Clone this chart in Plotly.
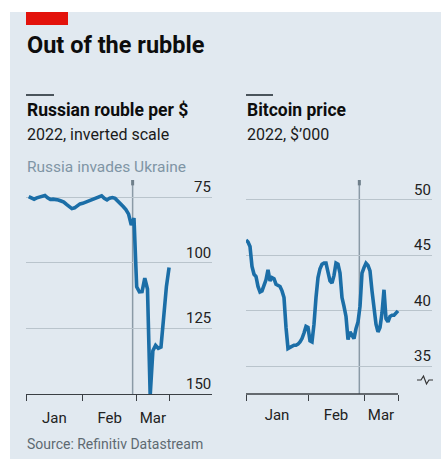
import numpy as np
import pandas as pd
import plotly.graph_objects as go

# ---- data -------------------------------------------------------------
# Rouble per dollar, trading days 4 Jan - 17 Mar 2022
rouble_dates = pd.bdate_range("2022-01-04", "2022-03-17")
rouble_values = [
    74.8, 75.3, 75.8, 75.3, 74.9, 74.5, 74.4, 75.3, 75.9, 75.8,
    75.9, 76.1, 76.5, 76.9, 77.8, 78.8, 79.4, 79.1, 78.2, 77.6,
    77.4, 77.0, 76.7, 76.2, 75.7, 75.2, 74.8, 74.5, 75.5, 76.1,
    75.4, 75.2, 75.5, 76.4, 77.4, 78.6, 79.8, 81.5, 85.7, 83.0,
    109.2, 111.1, 111.0, 105.9, 110.0, 150.6, 133.5, 131.5, 132.6, 132.1,
    120.7, 109.2, 101.8,
]
rouble_ticks = [75, 100, 125, 150]

# Bitcoin price, $'000, daily 1 Jan - 18 Mar 2022
btc_dates = pd.date_range("2022-01-01", "2022-03-18", freq="D")
btc_values = [
    46.4, 46.2, 45.8, 44.0, 43.3, 43.1, 42.2, 41.7, 41.8, 42.4,
    42.8, 43.7, 42.7, 43.0, 42.9, 42.4, 42.3, 42.2, 41.8, 41.2,
    38.5, 36.6, 36.7, 36.8, 36.9, 36.9, 37.0, 37.2, 37.5, 38.0,
    38.6, 38.5, 37.3, 37.2, 38.8, 41.2, 43.0, 43.8, 44.2, 44.3,
    44.3, 43.5, 42.7, 42.5, 43.2, 44.3, 44.2, 43.4, 41.2, 40.4,
    39.5, 37.4, 38.1, 37.8, 37.5, 38.4, 39.0, 40.4, 43.4, 43.9,
    44.3, 44.1, 43.6, 41.8, 40.0, 38.8, 38.1, 38.5, 39.8, 41.9,
    39.3, 39.0, 39.5, 39.6, 39.6, 39.8, 40.0,
]
btc_ticks = [35, 40, 45, 50]
month_names = ["Jan", "Feb", "Mar"]

# ---- geometry / style ---------------------------------------------------
W, H = 441, 459
BG = "#e1e9f0"
BLUE = "#1b6ea7"
GRID = "#b9c4cc"
AXIS = "#3a3f44"
VLINE = "#8a9aa6"
FONT = "Roboto"


def px(x):
    return x / W


def py(y):
    return (H - y) / H


# rouble x positions counted in trading days from 3 Jan
t0 = np.datetime64("2022-01-03")
rouble_x = np.busday_count(t0, rouble_dates.values.astype("datetime64[D]"))
r_bounds = [0,
            int(np.busday_count(t0, np.datetime64("2022-02-01"))),
            int(np.busday_count(t0, np.datetime64("2022-03-01"))),
            int(rouble_x[-1])]
r_mid = [(a + b) / 2 for a, b in zip(r_bounds[:-1], r_bounds[1:])]

b_bounds = [pd.Timestamp("2022-01-01"), pd.Timestamp("2022-02-01"),
            pd.Timestamp("2022-03-01"), btc_dates[-1]]
b_mid = [a + (b - a) / 2 for a, b in zip(b_bounds[:-1], b_bounds[1:])]

# event marker positions (rouble: trading-day units; bitcoin: timestamp)
r_event = 39.5
b_event = "2022-02-26 16:00"

fig = go.Figure()
fig.add_trace(go.Scatter(x=rouble_x, y=rouble_values, mode="lines",
                         line=dict(color=BLUE, width=3.6), xaxis="x", yaxis="y",
                         hoverinfo="skip", cliponaxis=False))
fig.add_trace(go.Scatter(x=btc_dates, y=btc_values, mode="lines",
                         line=dict(color=BLUE, width=3.6), xaxis="x2", yaxis="y2",
                         hoverinfo="skip"))

ydom = [py(394), py(180)]
tickfont = dict(family=FONT, size=15, color="#222222")

fig.update_layout(
    width=W, height=H, autosize=False,
    margin=dict(l=0, r=0, t=0, b=0),
    paper_bgcolor="white", plot_bgcolor="rgba(0,0,0,0)",
    showlegend=False,
    xaxis=dict(domain=[px(26), px(212)], range=[0, 68.9], anchor="y",
               tickvals=r_mid, ticktext=month_names, ticks="",
               tickfont=tickfont, ticklabelstandoff=10,
               showgrid=False, zeroline=False,
               showline=True, linecolor=AXIS, linewidth=1.3,
               minor=dict(tickvals=r_bounds, ticks="outside", ticklen=6,
                          tickcolor=AXIS, tickwidth=1.3, showgrid=False)),
    yaxis=dict(domain=ydom, range=[150, 68.5], anchor="x", side="right",
               tickvals=rouble_ticks, showticklabels=False,
               showgrid=True, gridcolor=GRID, gridwidth=1,
               zeroline=False, ticks="", showline=False),
    xaxis2=dict(domain=[px(246), px(432)], type="date",
                range=["2022-01-01", "2022-04-04"], anchor="y2",
                tickvals=b_mid, ticktext=month_names, ticks="",
                tickfont=tickfont, ticklabelstandoff=10,
                showgrid=False, zeroline=False, showline=False,
                minor=dict(tickvals=b_bounds, ticks="outside", ticklen=6,
                           tickcolor=AXIS, tickwidth=1.3, showgrid=False)),
    yaxis2=dict(domain=ydom, range=[32.5, 51.8], anchor="x2", side="right",
                tickvals=btc_ticks, showticklabels=False,
                showgrid=True, gridcolor=GRID, gridwidth=1,
                zeroline=False, ticks="", showline=False),
)

shapes = [
    # background panel
    dict(type="rect", xref="paper", yref="paper", x0=px(10), x1=1, y0=0, y1=py(12),
         fillcolor=BG, line=dict(width=0), layer="below"),
    # red tab
    dict(type="rect", xref="paper", yref="paper", x0=px(26), x1=px(68), y0=py(25), y1=py(12),
         fillcolor="#e3120b", line=dict(width=0)),
    # short rules above the panel titles
    dict(type="line", xref="paper", yref="paper", x0=px(26), x1=px(54), y0=py(95), y1=py(95),
         line=dict(color="#4a545b", width=2)),
    dict(type="line", xref="paper", yref="paper", x0=px(246), x1=px(273), y0=py(95), y1=py(95),
         line=dict(color="#4a545b", width=2)),
    # invasion markers, with a slightly heavier cap at the top
    dict(type="line", xref="x", yref="y domain", x0=r_event, x1=r_event, y0=0, y1=1,
         line=dict(color=VLINE, width=1.5), layer="below"),
    dict(type="line", xref="x", yref="y domain", x0=r_event, x1=r_event, y0=0.975, y1=1,
         line=dict(color="#6f7f8a", width=3), layer="below"),
    dict(type="line", xref="x2", yref="y2 domain", x0=b_event, x1=b_event,
         y0=0, y1=1, line=dict(color=VLINE, width=1.5), layer="below"),
    dict(type="line", xref="x2", yref="y2 domain", x0=b_event, x1=b_event,
         y0=0.975, y1=1, line=dict(color="#6f7f8a", width=3), layer="below"),
    # bitcoin baseline
    dict(type="line", xref="x2", yref="y2 domain", x0=b_bounds[0], x1=b_bounds[-1], y0=0, y1=0,
         line=dict(color=AXIS, width=1.3)),
    # axis break symbol
    dict(type="path", xref="paper", yref="paper",
         path=(f"M {px(417)},{py(380)} L {px(421)},{py(380)} L {px(423.5)},{py(376)} "
               f"L {px(426.5)},{py(384)} L {px(429)},{py(380)} L {px(433)},{py(380)}"),
         line=dict(color="#333333", width=1.2)),
]
fig.update_layout(shapes=shapes)


def text(x, y, s, size, color="#111111", bold=False):
    return dict(xref="paper", yref="paper", x=px(x), y=py(y), xanchor="left",
                yanchor="middle", showarrow=False,
                text=f"<b>{s}</b>" if bold else s,
                font=dict(family=FONT, size=size, color=color))


def ylabel(axis, v):
    # value labels sit just above their gridline at the right edge
    return dict(xref=f"x{axis} domain", yref=f"y{axis}", x=1, y=v,
                xanchor="right", yanchor="bottom", showarrow=False,
                text=str(v), font=tickfont, borderpad=0, yshift=0)


annotations = [
    text(25, 45, "Out of the rubble", 23.5, "#0d0d0d", bold=True),
    text(25, 110, "Russian rouble per $", 17.5, "#0d0d0d", bold=True),
    text(25, 135, "2022, inverted scale", 16, "#1a1a1a"),
    text(25, 167, "Russia invades Ukraine", 15.5, "#7f95a5"),
    text(245, 110, "Bitcoin price", 17.5, "#0d0d0d", bold=True),
    text(245, 135, "2022, $\u2019000", 16, "#1a1a1a"),
    text(25, 444, "Source: Refinitiv Datastream", 14, "#5e6a72"),
]
annotations += [ylabel("", v) for v in rouble_ticks]
annotations += [ylabel("2", v) for v in btc_ticks]
fig.update_layout(annotations=annotations)

fig.write_html("out.html")
